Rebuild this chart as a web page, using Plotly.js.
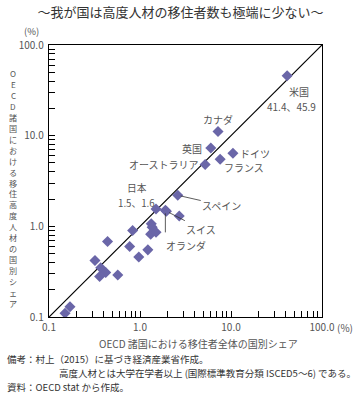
<!DOCTYPE html>
<html><head><meta charset="utf-8">
<script src="https://cdn.plot.ly/plotly-3.0.1.min.js"></script>
<style>html,body{margin:0;padding:0;background:#fff}#chart{width:361px;height:397px}</style>
</head><body><div id="chart"></div>
<script>
// Data: x = share of all immigrants in OECD (%), y = share of highly-skilled immigrants (%)
const countries = ['米国','カナダ','英国','ドイツ','フランス','オーストラリア','日本','スペイン','スイス','オランダ',
  'p1','p2','p3','p4','p5','p6','p7','p8','p9','p10','p11','p12','p13','p14','p15','p16','p17'];
const allShare =  [41.4, 7.2, 6.0, 10.5, 7.6, 5.2, 1.5, 2.6, 1.95, 1.9,
  0.15, 0.17, 0.32, 0.37, 0.42, 0.36, 0.44, 0.57, 0.77, 0.83, 0.97, 1.22, 1.33, 1.36, 1.31, 1.50, 2.7];
const skilledShare = [45.9, 11.1, 7.3, 6.4, 5.5, 4.8, 1.55, 2.2, 1.47, 1.5,
  0.11, 0.13, 0.42, 0.35, 0.31, 0.28, 0.68, 0.29, 0.60, 0.90, 0.46, 0.55, 1.07, 0.98, 0.82, 0.86, 1.3];
const diagLine = [0.1, 100];
const majorTicks = [0.1, 1, 10, 100];
const majorLabels = ['0.1', '1.0', '10.0', '100.0'];
const yTitleText = 'OECD諸国における移住高度人材の国別シェア';

const minorVals = [];
majorTicks.slice(0, -1).forEach(m => {
  for (let k = 2; k <= 9; k++) minorVals.push(+(m * k).toPrecision(3));
});

const FONT = 'Noto Sans CJK JP, Noto Sans, sans-serif';
const GRAY = '#555';
const L = 49, R = 39, T = 45, B = 80, W = 361, H = 397;
const pw = W - L - R, ph = H - T - B;
const px = v => (v - L) / pw;
const py = v => (H - B - v) / ph;

const traces = [
  {x: diagLine, y: diagLine, mode: 'lines', line: {color: '#000', width: 1.2}, hoverinfo: 'skip'},
  {x: allShare, y: skilledShare, mode: 'markers', text: countries,
   marker: {symbol: 'diamond', size: 8.5, color: '#6a66a8'}}
];

const idx = n => countries.indexOf(n);
function lab(name, text, opts) {
  const i = idx(name);
  return Object.assign({x: Math.log10(allShare[i]), y: Math.log10(skilledShare[i]), xref: 'x', yref: 'y',
    xanchor: 'center', yanchor: 'middle',
    text: text, showarrow: false, font: {family: FONT, size: 10, color: GRAY}}, opts);
}
function arrowLab(name, text, ax, ay) {
  const i = idx(name);
  return {x: Math.log10(allShare[i]), y: Math.log10(skilledShare[i]), xref: 'x', yref: 'y',
    text: text, showarrow: true, arrowhead: 0, arrowwidth: 0.8, arrowcolor: '#333', standoff: 3,
    ax: ax, ay: ay, font: {family: FONT, size: 10, color: GRAY}};
}
function pap(x, y, text, size, color, xanchor) {
  return {xref: 'paper', yref: 'paper', x: px(x), y: py(y), text: text, showarrow: false,
    xanchor: xanchor || 'center', yanchor: 'middle', font: {family: FONT, size: size, color: color}};
}

const annotations = [
  lab('米国', '米国', {xanchor: 'left', xshift: 0, yshift: -16}),
  lab('米国', '41.4、45.9', {xanchor: 'left', xshift: -22, yshift: -31}),
  lab('カナダ', 'カナダ', {yshift: 12}),
  lab('英国', '英国', {xanchor: 'right', xshift: -7}),
  lab('ドイツ', 'ドイツ', {xanchor: 'left', xshift: 5}),
  lab('フランス', 'フランス', {xanchor: 'left', xshift: 2, yshift: -8}),
  lab('オーストラリア', 'オーストラリア', {xanchor: 'right', xshift: -4}),
  lab('日本', '日本', {xshift: -19, yshift: 21, borderpad: 0, borderwidth: 0, font: {family: FONT, size: 9.7, color: GRAY}}),
  lab('日本', '1.5、1.6', {xshift: -20, yshift: 6.5, borderpad: 0, borderwidth: 0, font: {family: FONT, size: 9.7, color: GRAY}}),
  arrowLab('スペイン', 'スペイン', 44, 10),
  arrowLab('スイス', 'スイス', 35, 18),
  arrowLab('オランダ', ' ', 0, 31),
  lab('オランダ', 'オランダ', {xanchor: 'left', xshift: -1, yshift: -35}),
  pap(31, 31, '(%)', 9.5, GRAY),
  pap(335, 327, '(%)', 10, GRAY, 'left'),
  pap(198, 343, 'OECD 諸国における移住者全体の国別シェア', 10, GRAY),
  pap(5, 359, '備考：村上（2015）に基づき経済産業省作成。', 9.5, '#333', 'left'),
  pap(57, 373, '高度人材とは大学在学者以上 (国際標準教育分類 ISCED5～6) である。', 9.5, '#333', 'left'),
  pap(5, 387, '資料：OECD stat から作成。', 9.5, '#333', 'left')
];
// vertical (upright) y-axis title, one character per step
const chars = yTitleText.split('');
const yStart = 74, yEnd = 303;
chars.forEach((c, i) => {
  const a = pap(13, yStart + i * (yEnd - yStart) / (chars.length - 1), c, 8.1, GRAY);
  a.borderpad = 0; a.borderwidth = 0;
  annotations.push(a);
});

const axisCommon = {
  type: 'log', range: [-1, 2], tickmode: 'array', tickvals: majorTicks, ticktext: majorLabels,
  ticks: 'inside', ticklen: 6, tickcolor: '#000', tickwidth: 1,
  minor: {tickmode: 'array', tickvals: minorVals, ticks: 'inside', ticklen: 6, tickcolor: '#000', tickwidth: 1, showgrid: false},
  showline: true, linecolor: '#000', linewidth: 1.3, mirror: true,
  showgrid: false, zeroline: false, fixedrange: true,
  tickfont: {family: FONT, size: 10, color: GRAY}
};

const layout = {
  width: W, height: H,
  margin: {l: L, r: R, t: T, b: B},
  paper_bgcolor: '#fff', plot_bgcolor: '#fff',
  showlegend: false,
  title: {text: '～我が国は高度人材の移住者数も極端に少ない～', x: 0.5, xanchor: 'center', y: 1 - 12 / H, yanchor: 'middle',
    font: {family: FONT, size: 13, color: '#333'}},
  xaxis: Object.assign({}, axisCommon, {ticklabelstandoff: 1}),
  yaxis: Object.assign({}, axisCommon, {ticklabelstandoff: 2}),
  annotations: annotations
};

Plotly.newPlot('chart', traces, layout, {displayModeBar: false, staticPlot: true});
</script></body></html>
